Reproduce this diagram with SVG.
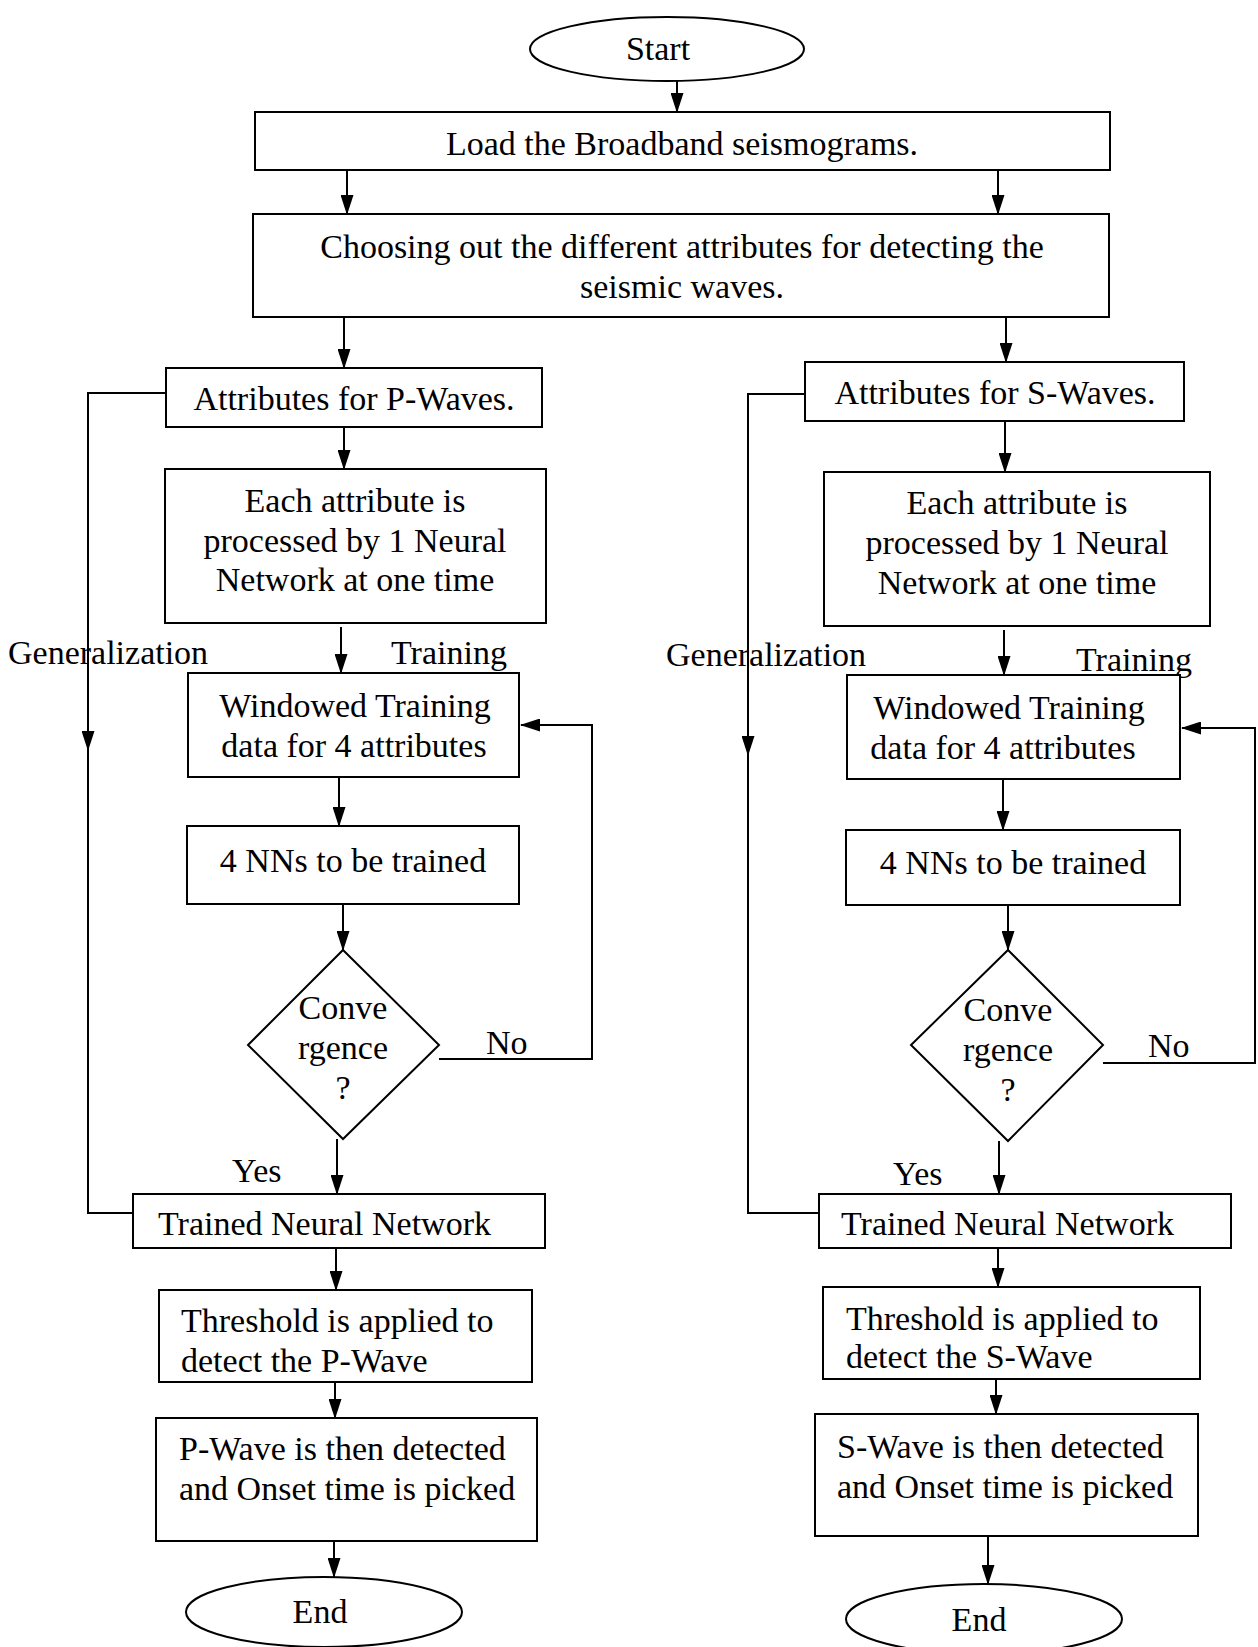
<svg xmlns="http://www.w3.org/2000/svg" width="1258" height="1647" viewBox="0 0 1258 1647">
<style>
.n{fill:#fff;stroke:#000;stroke-width:2}
.c{fill:none;stroke:#000;stroke-width:2}
.a{marker-end:url(#ah)}
text{font-family:"Liberation Serif","Times New Roman",serif;font-size:34px;fill:#000}
.m{text-anchor:middle}
</style>
<defs>
<marker id="ah" markerUnits="userSpaceOnUse" markerWidth="13" markerHeight="20" refX="6.5" refY="19" orient="0" viewBox="0 0 13 20">
<path d="M0,0 L13,0 L6.5,20 Z" fill="#000"/>
</marker>
<marker id="al" markerUnits="userSpaceOnUse" markerWidth="20" markerHeight="13" refX="1" refY="6.5" viewBox="0 0 20 13">
<path d="M20,0 L20,13 L0,6.5 Z" fill="#000"/>
</marker>
</defs>
<rect width="1258" height="1647" fill="#fff"/>

<g id="connectors">
<line class="c a" x1="677" y1="81" x2="677" y2="112"/>
<line class="c a" x1="347" y1="170" x2="347" y2="214"/>
<line class="c a" x1="998" y1="170" x2="998" y2="214"/>
<line class="c a" x1="344" y1="317" x2="344" y2="368"/>
<line class="c a" x1="1006" y1="317" x2="1006" y2="362"/>
<line class="c a" x1="344" y1="427" x2="344" y2="469"/>
<line class="c a" x1="1005" y1="421" x2="1005" y2="472"/>
<line class="c a" x1="341" y1="627" x2="341" y2="673"/>
<line class="c a" x1="1004" y1="630" x2="1004" y2="675"/>
<line class="c a" x1="339" y1="777" x2="339" y2="826"/>
<line class="c a" x1="1003" y1="779" x2="1003" y2="830"/>
<line class="c a" x1="343" y1="904" x2="343" y2="950"/>
<line class="c a" x1="1008" y1="905" x2="1008" y2="950"/>
<line class="c a" x1="337" y1="1139" x2="337" y2="1194"/>
<line class="c a" x1="999" y1="1141" x2="999" y2="1194"/>
<line class="c a" x1="336" y1="1248" x2="336" y2="1290"/>
<line class="c a" x1="998" y1="1248" x2="998" y2="1287"/>
<line class="c a" x1="335" y1="1382" x2="335" y2="1418"/>
<line class="c a" x1="996" y1="1379" x2="996" y2="1414"/>
<line class="c a" x1="334" y1="1541" x2="334" y2="1577"/>
<line class="c a" x1="988" y1="1536" x2="988" y2="1584"/>
<polyline class="c" points="439,1059 592,1059 592,725 521,725" marker-end="url(#al)"/>
<polyline class="c" points="1103,1063 1255,1063 1255,728 1182,728" marker-end="url(#al)"/>
<polyline class="c" points="166,393 88,393 88,1213 133,1213"/>
<line class="c a" x1="88" y1="700" x2="88" y2="750"/>
<polyline class="c" points="805,394 748,394 748,1213 819,1213"/>
<line class="c a" x1="748" y1="705" x2="748" y2="755"/>
</g>

<g id="start"><ellipse class="n" cx="667" cy="49" rx="137" ry="32"/><text class="m" x="658" y="60">Start</text></g>
<g id="load"><rect class="n" x="255" y="112" width="855" height="58"/><text class="m" x="682" y="155">Load the Broadband seismograms.</text></g>
<g id="choose"><rect class="n" x="253" y="214" width="856" height="103"/><text class="m" x="682" y="258">Choosing out the different attributes for detecting the</text><text class="m" x="682" y="298">seismic waves.</text></g>

<g id="attrP"><rect class="n" x="166" y="368" width="376" height="59"/><text class="m" x="354" y="410">Attributes for P-Waves.</text></g>
<g id="attrS"><rect class="n" x="805" y="362" width="379" height="59"/><text class="m" x="995" y="404">Attributes for S-Waves.</text></g>

<g id="eachP"><rect class="n" x="165" y="469" width="381" height="154"/><text class="m" x="355" y="512">Each attribute is</text><text class="m" x="355" y="552">processed by 1 Neural</text><text class="m" x="355" y="591">Network at one time</text></g>
<g id="eachS"><rect class="n" x="824" y="472" width="386" height="154"/><text class="m" x="1017" y="514">Each attribute is</text><text class="m" x="1017" y="554">processed by 1 Neural</text><text class="m" x="1017" y="594">Network at one time</text></g>

<g id="labels">
<text x="8" y="664">Generalization</text>
<text x="391" y="664">Training</text>
<text x="666" y="666">Generalization</text>
<text x="1076" y="671">Training</text>
<text x="486" y="1054">No</text>
<text x="1148" y="1057">No</text>
<text x="232" y="1182">Yes</text>
<text x="893" y="1185">Yes</text>
</g>

<g id="winP"><rect class="n" x="188" y="673" width="331" height="104"/><text class="m" x="355" y="717">Windowed Training</text><text class="m" x="354" y="757">data for 4 attributes</text></g>
<g id="winS"><rect class="n" x="847" y="675" width="333" height="104"/><text class="m" x="1009" y="719">Windowed Training</text><text class="m" x="1003" y="759">data for 4 attributes</text></g>

<g id="nnP"><rect class="n" x="187" y="826" width="332" height="78"/><text class="m" x="353" y="872">4 NNs to be trained</text></g>
<g id="nnS"><rect class="n" x="846" y="830" width="334" height="75"/><text class="m" x="1013" y="874">4 NNs to be trained</text></g>

<g id="convP"><polygon class="n" points="343,950 439,1045 343,1139 248,1045"/><text class="m" x="343" y="1019">Conve</text><text class="m" x="343" y="1059">rgence</text><text class="m" x="343" y="1099">?</text></g>
<g id="convS"><polygon class="n" points="1008,950 1103,1045 1008,1141 911,1045"/><text class="m" x="1008" y="1021">Conve</text><text class="m" x="1008" y="1061">rgence</text><text class="m" x="1008" y="1101">?</text></g>

<g id="trainedP"><rect class="n" x="133" y="1194" width="412" height="54"/><text x="158" y="1235">Trained Neural Network</text></g>
<g id="trainedS"><rect class="n" x="819" y="1194" width="412" height="54"/><text x="841" y="1235">Trained Neural Network</text></g>

<g id="threshP"><rect class="n" x="159" y="1290" width="373" height="92"/><text x="181" y="1332">Threshold is applied to</text><text x="181" y="1372">detect the P-Wave</text></g>
<g id="threshS"><rect class="n" x="823" y="1287" width="377" height="92"/><text x="846" y="1330">Threshold is applied to</text><text x="846" y="1368">detect the S-Wave</text></g>

<g id="detP"><rect class="n" x="156" y="1418" width="381" height="123"/><text x="179" y="1460">P-Wave is then detected</text><text x="179" y="1500">and Onset time is picked</text></g>
<g id="detS"><rect class="n" x="815" y="1414" width="383" height="122"/><text x="837" y="1458">S-Wave is then detected</text><text x="837" y="1498">and Onset time is picked</text></g>

<g id="endP"><ellipse class="n" cx="324" cy="1612" rx="138" ry="35"/><text class="m" x="320" y="1623">End</text></g>
<g id="endS"><ellipse class="n" cx="984" cy="1619" rx="138" ry="35"/><text class="m" x="979" y="1631">End</text></g>
</svg>
